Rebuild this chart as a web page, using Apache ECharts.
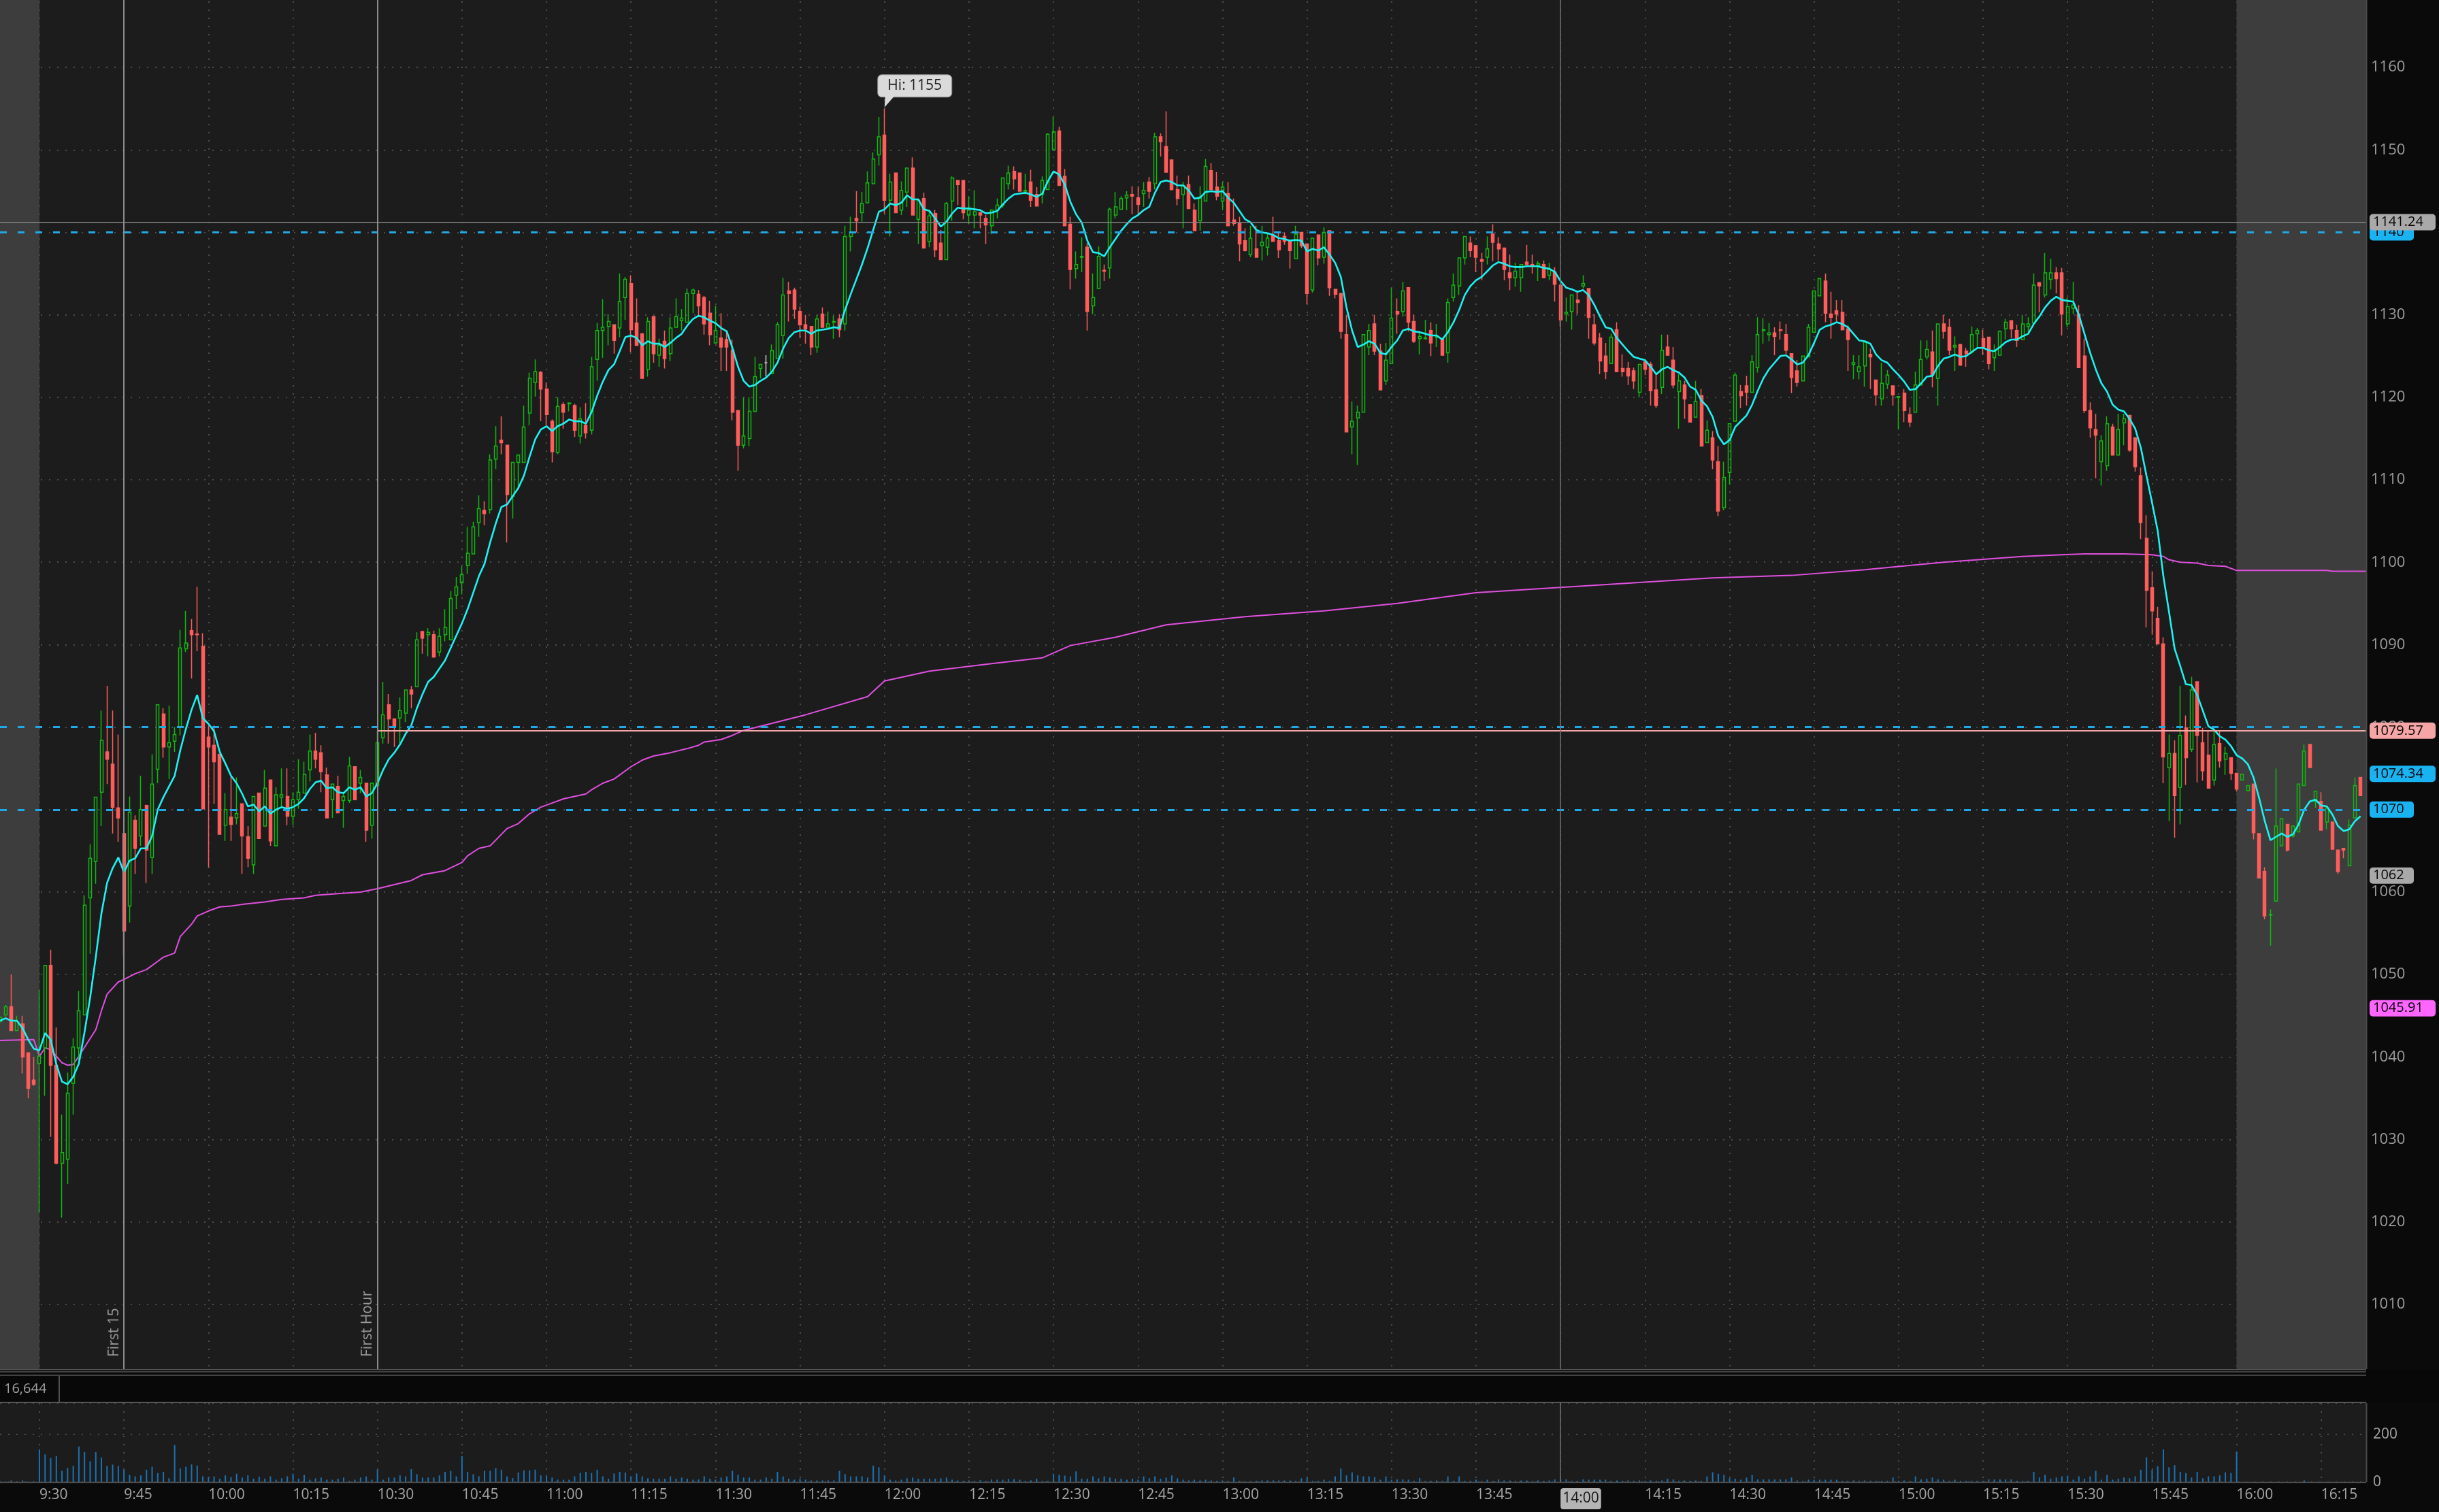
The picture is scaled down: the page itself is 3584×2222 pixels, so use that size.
<!DOCTYPE html>
<html><head><meta charset="utf-8">
<script src="https://cdn.jsdelivr.net/npm/echarts@6/dist/echarts.min.js"></script>
<style>html,body{margin:0;padding:0;background:#0a0a0a;}#c{width:3584px;height:2222px;}</style>
</head><body><div id="c"></div>
<script>
// ---- categories: one-minute bars 9:23 .. 16:23 ----
const firstMinute = 9 * 60 + 23, lastMinute = 16 * 60 + 23;
const times = [];
for (let t = firstMinute; t <= lastMinute; t++) times.push(Math.floor(t / 60) + ':' + String(t % 60).padStart(2, '0'));

// ---- candles [open, close, low, high], starting 9:23 ----
const candles = [
[1044.3,1044.8,1044.0,1045.0],[1045.1,1046.1,1044.9,1046.3],[1046.1,1043.2,1043.2,1050.0],[1043.2,1044.3,1043.2,1045.0],[1044.0,1040.0,1038.0,1045.0],[1040.5,1036.2,1035.0,1040.5],[1037.2,1036.7,1036.5,1040.0],
[1039.2,1040.1,1021.1,1048.1],[1041.1,1051.1,1035.3,1051.1],[1051.1,1039.0,1030.3,1053.0],[1039.0,1027.1,1027.0,1043.6],[1027.1,1028.4,1020.5,1033.0],[1027.6,1035.6,1024.6,1038.1],[1036.8,1041.2,1033.0,1042.3],[1041.1,1045.6,1039.6,1048.0],[1045.1,1058.4,1045.1,1059.6],[1059.3,1064.1,1052.5,1065.8],
[1063.7,1071.5,1061.0,1071.5],[1072.1,1078.4,1068.0,1082.0],[1077.0,1076.1,1073.1,1085.0],[1075.5,1070.3,1067.1,1082.0],[1070.2,1069.0,1066.1,1079.1],[1067.1,1055.3,1052.3,1067.1],[1058.3,1069.7,1056.3,1071.6],[1068.7,1065.3,1062.2,1069.3],[1066.8,1070.0,1065.6,1074.1],[1070.5,1065.1,1061.1,1070.6],
[1064.2,1073.1,1062.2,1076.7],[1074.9,1082.7,1073.2,1082.7],[1081.6,1077.6,1076.3,1082.3],[1077.6,1078.1,1073.7,1082.6],[1078.3,1079.1,1077.0,1080.0],[1080.0,1089.6,1079.0,1091.8],[1089.5,1090.2,1089.1,1094.1],[1091.7,1091.2,1085.9,1093.1],[1091.3,1091.2,1089.2,1097.0],[1089.8,1070.1,1070.0,1091.4],
[1078.8,1077.6,1063.0,1080.2],[1077.8,1075.8,1070.7,1080.2],[1076.7,1067.0,1067.0,1076.7],[1068.1,1070.0,1066.2,1072.0],[1069.1,1068.2,1066.2,1074.0],[1069.0,1069.5,1068.2,1073.9],[1070.7,1066.8,1062.2,1070.7],[1066.7,1064.1,1063.0,1068.0],[1063.3,1071.6,1062.2,1071.6],[1072.0,1066.5,1066.5,1072.0],
[1068.0,1072.6,1068.0,1074.8],[1073.6,1066.2,1065.6,1073.6],[1065.6,1071.8,1065.6,1072.7],[1071.5,1071.8,1070.3,1075.0],[1071.6,1069.2,1068.1,1075.0],[1069.2,1071.2,1068.1,1072.1],[1071.2,1072.1,1070.1,1076.1],[1072.0,1074.3,1072.0,1075.8],[1074.8,1077.1,1073.4,1079.1],[1077.1,1076.1,1075.0,1079.3],
[1076.9,1074.6,1072.1,1077.8],[1074.2,1069.0,1069.0,1075.1],[1071.2,1073.1,1069.0,1073.1],[1072.8,1069.6,1069.6,1074.1],[1071.1,1071.6,1067.8,1072.1],[1071.1,1075.3,1070.8,1076.4],[1075.2,1071.2,1071.2,1075.2],[1073.2,1073.9,1072.0,1074.8],[1073.2,1067.5,1066.1,1073.2],[1068.1,1073.2,1066.5,1073.2],
[1072.9,1078.1,1072.9,1079.6],[1078.7,1081.5,1078.0,1085.5],[1082.7,1081.0,1078.0,1084.0],[1081.0,1080.2,1077.6,1081.0],[1081.1,1082.0,1078.0,1083.6],[1081.7,1084.5,1080.6,1084.5],[1084.5,1084.0,1082.3,1085.0],[1084.9,1090.6,1084.9,1091.5],[1091.6,1090.8,1088.9,1091.6],[1091.2,1091.5,1088.6,1092.0],
[1091.2,1088.5,1088.4,1091.7],[1089.1,1091.0,1088.6,1092.0],[1091.2,1092.1,1090.4,1094.3],[1090.6,1095.6,1090.6,1096.5],[1096.0,1097.0,1094.3,1098.2],[1097.5,1098.5,1096.1,1099.5],[1099.6,1101.1,1098.6,1104.3],[1101.0,1104.3,1101.0,1104.9],[1104.8,1106.5,1103.1,1108.1],[1106.3,1105.9,1104.5,1107.4],
[1106.4,1112.4,1105.9,1113.1],[1112.5,1114.1,1111.3,1116.5],[1114.8,1114.5,1113.1,1117.7],[1114.2,1108.2,1102.4,1114.2],[1108.0,1112.1,1105.3,1112.1],[1112.1,1113.0,1109.0,1113.1],[1112.1,1116.4,1112.1,1119.0],[1118.1,1122.3,1116.6,1123.0],[1121.8,1123.1,1120.1,1124.6],[1123.0,1121.0,1117.1,1123.2],
[1121.0,1117.9,1116.6,1121.8],[1117.1,1113.4,1112.1,1117.3],[1113.3,1118.9,1113.1,1120.0],[1119.1,1118.2,1116.2,1119.4],[1119.2,1119.3,1118.3,1119.4],[1119.0,1116.0,1115.2,1119.2],[1115.3,1117.4,1114.4,1118.8],[1116.6,1115.7,1115.0,1119.3],[1116.0,1123.7,1115.5,1124.9],[1124.6,1128.1,1122.0,1129.0],
[1128.1,1128.5,1124.8,1131.9],[1128.6,1129.2,1126.3,1130.1],[1128.8,1126.9,1125.3,1128.8],[1128.4,1131.6,1127.3,1135.0],[1132.1,1134.3,1129.4,1134.6],[1133.8,1128.2,1125.5,1134.8],[1129.0,1126.3,1126.3,1132.0],[1127.7,1122.3,1122.3,1127.7],[1123.4,1129.2,1122.5,1129.7],[1129.8,1125.3,1124.2,1129.8],
[1125.1,1126.3,1123.7,1127.1],[1126.8,1124.7,1123.5,1128.1],[1125.3,1128.4,1124.4,1129.7],[1128.5,1129.8,1128.5,1132.0],[1129.3,1129.6,1128.1,1130.7],[1129.1,1132.6,1129.1,1133.2],[1132.6,1133.0,1130.2,1133.2],[1132.5,1131.1,1129.7,1133.0],[1132.1,1128.9,1127.6,1132.3],[1130.2,1127.6,1126.3,1131.7],
[1126.6,1128.1,1126.5,1131.1],[1127.2,1126.1,1123.2,1130.2],[1127.0,1126.1,1123.2,1128.1],[1125.7,1118.2,1117.2,1127.0],[1118.4,1114.2,1111.1,1118.4],[1114.2,1115.3,1113.8,1120.0],[1115.0,1118.3,1114.1,1120.0],[1118.3,1122.5,1118.3,1124.9],[1123.5,1124.0,1122.3,1124.0],[1124.2,1124.2,1122.5,1125.1],
[1122.9,1125.7,1122.9,1126.4],[1124.7,1128.8,1124.7,1129.1],[1127.5,1132.4,1124.7,1134.5],[1132.9,1132.6,1129.2,1134.0],[1133.0,1130.7,1129.5,1133.3],[1130.4,1128.8,1127.2,1131.0],[1128.8,1128.3,1126.5,1130.0],[1128.6,1126.1,1125.1,1128.6],[1126.1,1129.5,1125.4,1130.0],[1130.1,1128.5,1128.5,1130.9],
[1128.5,1128.9,1128.5,1130.4],[1129.1,1129.2,1127.1,1129.9],[1129.5,1128.2,1127.3,1130.1],[1128.9,1139.5,1128.1,1140.8],[1139.5,1140.0,1137.7,1141.9],[1141.7,1141.4,1140.0,1145.0],[1142.4,1143.5,1141.3,1144.9],[1143.6,1146.0,1143.6,1147.4],[1145.9,1148.9,1145.9,1149.7],[1149.4,1151.6,1148.1,1154.0],
[1151.8,1143.9,1142.3,1155.0],[1143.9,1146.1,1139.5,1147.1],[1147.2,1142.4,1142.4,1147.2],[1142.7,1145.1,1142.1,1146.2],[1144.9,1147.8,1143.1,1147.8],[1147.8,1142.1,1142.1,1149.1],[1141.6,1143.9,1138.6,1144.1],[1144.1,1138.1,1138.1,1144.8],[1138.9,1142.0,1138.2,1142.7],[1142.3,1137.9,1137.0,1142.7],
[1138.7,1136.7,1136.7,1140.3],[1136.7,1143.5,1136.7,1143.7],[1143.8,1146.6,1141.4,1146.8],[1146.3,1145.8,1143.3,1146.3],[1146.3,1142.4,1141.6,1146.3],[1142.1,1142.7,1141.0,1144.4],[1142.1,1142.5,1140.5,1145.1],[1142.4,1142.1,1140.5,1142.4],[1141.7,1140.9,1138.6,1142.1],[1140.8,1142.7,1139.8,1142.8],
[1142.7,1143.3,1141.7,1144.1],[1143.3,1146.6,1143.0,1146.6],[1145.9,1147.2,1145.2,1148.1],[1147.4,1146.5,1145.2,1148.0],[1147.2,1145.0,1145.0,1147.2],[1145.0,1145.1,1144.6,1147.1],[1146.1,1143.9,1143.1,1147.6],[1144.6,1143.2,1143.2,1145.5],[1144.6,1146.3,1143.5,1146.8],[1145.2,1151.9,1145.2,1152.0],
[1150.0,1152.2,1150.0,1154.0],[1152.3,1145.7,1145.7,1152.8],[1146.8,1140.8,1140.8,1147.7],[1141.0,1135.5,1133.1,1141.9],[1135.6,1136.1,1134.4,1137.7],[1137.0,1137.1,1135.2,1139.4],[1138.2,1130.4,1128.1,1138.7],[1131.1,1132.1,1130.1,1135.0],[1133.2,1137.1,1133.2,1138.3],[1135.4,1135.3,1134.1,1136.1],
[1135.7,1142.8,1134.4,1143.0],[1142.1,1143.1,1141.7,1144.9],[1142.8,1144.1,1142.8,1144.4],[1144.2,1144.5,1142.7,1145.0],[1144.6,1144.4,1142.2,1145.6],[1144.2,1143.4,1142.2,1145.6],[1144.7,1145.1,1143.1,1146.1],[1146.1,1145.0,1144.1,1146.7],[1145.9,1151.6,1145.2,1152.1],[1151.6,1151.0,1149.2,1152.0],
[1150.4,1147.3,1147.3,1154.7],[1148.8,1145.2,1145.1,1148.8],[1145.2,1144.1,1143.3,1146.9],[1144.6,1145.7,1140.5,1146.1],[1145.8,1142.9,1142.9,1146.9],[1142.7,1140.2,1140.2,1143.5],[1141.4,1144.3,1140.2,1145.6],[1143.8,1148.0,1143.8,1148.9],[1147.5,1145.2,1145.2,1148.4],[1145.5,1144.4,1143.9,1147.3],
[1143.8,1145.5,1142.7,1146.1],[1144.7,1140.8,1140.8,1146.1],[1141.5,1141.1,1140.8,1144.1],[1141.1,1138.6,1136.5,1141.9],[1139.0,1137.8,1137.7,1140.5],[1137.3,1139.3,1137.0,1140.8],[1138.0,1137.0,1137.0,1140.8],[1138.4,1138.8,1136.6,1140.8],[1138.2,1139.3,1137.2,1139.8],[1139.6,1138.9,1138.9,1141.9],
[1139.0,1137.9,1136.9,1140.0],[1139.5,1138.9,1138.5,1140.0],[1139.0,1137.8,1135.6,1139.0],[1136.8,1139.8,1136.8,1140.8],[1140.0,1138.4,1138.1,1140.0],[1138.6,1132.6,1131.3,1138.6],[1133.0,1139.3,1132.7,1139.3],[1139.7,1136.9,1136.0,1139.7],[1137.0,1140.0,1136.2,1140.6],[1140.2,1133.3,1132.3,1140.2],
[1133.1,1132.5,1132.0,1133.1],[1132.6,1128.0,1127.1,1132.6],[1127.6,1115.8,1115.8,1130.0],[1116.4,1117.1,1113.1,1119.5],[1117.5,1118.2,1111.8,1119.0],[1118.2,1127.6,1118.2,1127.6],[1126.1,1128.1,1125.1,1128.9],[1128.9,1125.6,1125.1,1130.0],[1125.6,1120.9,1120.9,1126.5],[1122.0,1124.5,1121.5,1126.6],
[1124.1,1129.6,1124.1,1133.3],[1130.4,1130.1,1127.7,1132.0],[1130.4,1132.9,1129.8,1134.0],[1133.3,1129.1,1128.0,1133.3],[1129.2,1126.8,1126.6,1130.0],[1127.1,1127.4,1125.2,1127.8],[1127.1,1127.2,1127.0,1129.4],[1128.1,1126.6,1125.0,1129.1],[1127.3,1127.4,1126.1,1128.9],[1127.0,1125.1,1125.1,1127.0],
[1125.4,1131.5,1124.2,1132.0],[1132.1,1133.6,1131.6,1135.0],[1133.5,1136.9,1132.4,1136.9],[1136.9,1139.5,1136.1,1139.5],[1138.7,1137.8,1137.0,1139.5],[1138.4,1137.0,1135.2,1138.5],[1136.7,1136.5,1134.2,1137.5],[1137.0,1138.0,1136.1,1139.5],[1139.8,1138.8,1136.5,1141.0],[1138.6,1138.0,1136.6,1139.4],
[1138.1,1135.5,1134.2,1138.1],[1135.1,1134.5,1133.0,1137.3],[1134.5,1135.3,1133.4,1136.3],[1134.5,1136.1,1132.8,1136.1],[1136.4,1136.1,1136.1,1138.5],[1136.1,1135.9,1135.0,1137.3],[1136.0,1136.2,1134.1,1136.5],[1136.1,1134.5,1134.5,1136.6],[1134.8,1135.5,1134.2,1136.3],[1135.2,1133.7,1131.6,1135.8],
[1133.6,1129.4,1128.6,1133.6],[1130.1,1130.3,1129.2,1132.1],[1130.4,1132.4,1128.2,1132.5],[1131.8,1131.5,1130.1,1132.9],[1133.5,1133.8,1133.2,1134.8],[1133.2,1129.7,1127.1,1133.2],[1128.8,1126.6,1126.3,1130.1],[1127.2,1124.4,1122.8,1127.8],[1125.0,1123.1,1122.2,1126.6],[1124.1,1127.3,1124.1,1127.7],
[1128.2,1123.1,1123.1,1129.1],[1123.5,1123.1,1122.5,1125.2],[1123.5,1122.6,1121.5,1124.3],[1123.2,1122.0,1121.0,1123.6],[1120.6,1124.0,1120.0,1124.0],[1124.3,1123.4,1122.7,1124.3],[1124.0,1120.8,1119.0,1124.3],[1120.9,1119.0,1118.7,1122.8],[1121.2,1125.7,1120.4,1127.6],[1126.1,1125.1,1125.1,1127.6],
[1124.5,1121.5,1121.1,1126.1],[1120.7,1122.0,1116.2,1122.8],[1121.5,1119.8,1117.4,1122.0],[1119.1,1117.0,1117.0,1119.1],[1117.6,1119.5,1117.6,1122.0],[1120.2,1114.1,1114.1,1121.0],[1114.5,1116.0,1114.5,1117.2],[1115.1,1112.4,1111.3,1115.9],[1112.2,1106.2,1105.6,1114.1],[1106.6,1110.3,1106.3,1112.2],
[1110.9,1116.8,1109.4,1116.8],[1117.1,1122.7,1117.1,1123.0],[1120.7,1120.2,1118.7,1121.5],[1121.4,1120.6,1119.0,1122.6],[1120.6,1124.3,1120.6,1125.1],[1123.6,1127.6,1123.0,1129.7],[1128.1,1128.2,1126.5,1129.6],[1127.6,1127.8,1126.8,1129.0],[1127.8,1127.4,1125.1,1128.5],[1128.2,1128.1,1127.0,1129.2],
[1127.6,1125.7,1125.3,1128.9],[1125.3,1122.4,1120.5,1125.3],[1123.2,1121.8,1121.3,1124.5],[1122.0,1125.0,1122.0,1125.0],[1124.9,1128.5,1124.9,1128.9],[1127.9,1132.9,1127.9,1132.9],[1132.3,1134.4,1132.3,1134.5],[1134.1,1130.2,1129.1,1135.0],[1130.1,1129.7,1127.1,1132.8],[1130.5,1130.1,1129.2,1131.8],
[1130.3,1128.2,1128.1,1131.8],[1128.3,1127.0,1123.2,1128.7],[1124.0,1124.2,1122.2,1125.1],[1123.1,1123.7,1122.2,1125.1],[1123.8,1126.7,1121.3,1126.7],[1125.2,1124.9,1121.0,1125.9],[1122.1,1120.3,1119.0,1122.1],[1119.8,1121.7,1119.0,1124.2],[1121.6,1122.7,1121.0,1123.3],[1121.4,1120.3,1119.0,1121.4],
[1120.0,1120.1,1116.1,1120.1],[1120.5,1118.4,1117.0,1121.0],[1117.9,1117.0,1116.4,1118.8],[1118.2,1121.5,1118.2,1123.1],[1121.5,1124.6,1121.5,1126.9],[1124.9,1125.8,1124.6,1126.9],[1125.5,1122.7,1121.2,1128.1],[1122.3,1128.9,1119.0,1128.9],[1128.9,1128.0,1127.1,1130.0],[1128.5,1125.7,1125.1,1129.5],
[1126.1,1126.3,1123.2,1127.4],[1126.4,1123.9,1123.8,1126.4],[1125.6,1125.3,1123.7,1126.0],[1125.5,1127.6,1125.3,1128.6],[1127.7,1128.1,1126.1,1128.4],[1127.1,1126.1,1125.1,1128.2],[1127.3,1124.1,1123.4,1127.3],[1124.8,1125.6,1123.2,1126.4],[1125.1,1128.0,1125.1,1128.1],[1128.3,1129.1,1127.0,1129.5],
[1129.3,1128.3,1127.2,1129.3],[1128.1,1126.9,1126.1,1128.8],[1127.0,1128.9,1127.0,1130.0],[1128.6,1128.9,1127.8,1129.7],[1129.0,1133.6,1129.0,1135.0],[1133.9,1133.5,1130.3,1134.0],[1132.4,1135.1,1132.1,1137.5],[1134.3,1135.1,1133.1,1136.8],[1135.1,1134.4,1132.6,1135.8],[1135.1,1130.1,1127.5,1135.7],
[1128.9,1131.0,1128.5,1132.1],[1130.8,1131.2,1130.1,1134.0],[1130.1,1123.6,1123.6,1131.2],[1125.0,1118.4,1118.1,1127.1],[1118.4,1116.3,1115.1,1119.4],[1116.1,1115.4,1110.2,1118.0],[1112.2,1114.7,1109.3,1115.4],[1111.7,1116.8,1111.1,1117.7],[1116.4,1113.0,1113.0,1116.8],[1113.0,1116.1,1113.0,1118.0],
[1116.9,1117.4,1114.2,1118.0],[1117.8,1113.6,1113.4,1117.8],[1115.1,1111.6,1111.0,1115.1],[1110.5,1104.8,1102.8,1111.5],[1102.9,1096.6,1092.1,1105.7],[1096.9,1094.1,1091.2,1098.9],[1093.2,1090.1,1090.1,1094.6],[1090.1,1076.4,1073.2,1090.9],[1075.1,1076.8,1068.6,1079.1],[1076.8,1071.7,1066.6,1078.4],
[1072.7,1079.0,1068.2,1085.0],[1079.9,1076.3,1073.0,1081.4],[1077.3,1084.5,1077.0,1086.1],[1085.5,1079.0,1073.3,1085.5],[1078.1,1074.7,1073.5,1079.9],[1076.6,1072.6,1072.6,1079.6],[1073.6,1077.9,1072.9,1079.6],[1078.0,1075.9,1075.1,1079.6],[1076.1,1076.8,1074.2,1077.6],[1076.3,1074.4,1073.6,1076.3],
[1074.4,1072.5,1072.2,1074.4],[1073.6,1074.3,1073.6,1074.3],[1072.3,1072.9,1072.3,1072.9],[1073.1,1067.2,1066.4,1073.1],[1067.1,1061.7,1061.7,1067.1],[1062.5,1057.1,1056.7,1063.0],[1057.2,1057.3,1053.5,1057.9],[1058.9,1068.0,1058.9,1075.0],[1065.6,1068.9,1065.6,1068.9],[1068.2,1065.1,1064.9,1068.2],
[1066.8,1068.0,1066.6,1068.0],[1067.3,1073.1,1067.3,1073.1],[1072.9,1077.1,1072.9,1077.9],[1077.9,1075.1,1075.1,1077.9],[1071.0,1072.2,1070.2,1072.2],[1071.0,1067.5,1067.5,1072.1],[1068.5,1070.2,1067.6,1070.2],[1068.5,1065.2,1065.2,1068.5],[1065.1,1062.5,1062.2,1065.1],[1065.3,1065.1,1064.1,1065.3],
[1063.2,1068.1,1063.2,1068.8],[1069.0,1072.9,1069.0,1073.9],[1073.9,1071.7,1071.7,1073.9]
];

// ---- cyan moving-average study line, starting 9:23 ----
const ema = [
1044.4,1044.7,1044.4,1044.4,1043.5,1042.1,1041.0,
1040.8,1042.9,1042.1,1039.1,1037.0,1036.7,1037.6,1039.2,1043.0,1047.2,
1052.1,1057.4,1061.1,1062.9,1064.2,1062.4,1063.8,1064.1,1065.3,1065.3,
1066.8,1070.0,1071.5,1072.8,1074.1,1077.2,1079.8,1082.1,1083.9,1081.1,
1080.4,1079.5,1077.0,1075.6,1074.1,1073.2,1071.9,1070.4,1070.6,1069.8,
1070.4,1069.5,1070.0,1070.3,1070.1,1070.3,1070.7,1071.4,1072.5,1073.3,
1073.5,1072.6,1072.7,1072.1,1072.0,1072.7,1072.4,1072.7,1071.6,1072.0,
1073.2,1074.8,1076.1,1076.9,1077.9,1079.2,1080.2,1082.3,1084.0,1085.5,
1086.1,1087.1,1088.1,1089.6,1091.1,1092.6,1094.3,1096.3,1098.3,1099.8,
1102.4,1104.7,1106.7,1107.0,1108.0,1109.0,1110.5,1112.8,1114.9,1116.1,
1116.5,1115.9,1116.5,1116.8,1117.3,1117.1,1117.1,1116.8,1118.2,1120.2,
1121.9,1123.3,1124.0,1125.6,1127.3,1127.5,1127.2,1126.3,1126.8,1126.5,
1126.5,1126.1,1126.6,1127.2,1127.7,1128.7,1129.5,1129.9,1129.7,1129.3,
1129.0,1128.4,1128.0,1126.0,1123.7,1122.0,1121.3,1121.5,1122.0,1122.4,
1123.1,1124.2,1125.9,1127.2,1127.9,1128.1,1128.1,1127.7,1128.1,1128.2,
1128.3,1128.5,1128.4,1130.6,1132.5,1134.3,1136.1,1138.1,1140.3,1142.5,
1142.8,1143.5,1143.3,1143.6,1144.5,1144.0,1144.0,1142.8,1142.6,1141.7,
1140.7,1141.3,1142.3,1143.0,1142.9,1142.9,1142.8,1142.7,1142.3,1142.4,
1142.6,1143.4,1144.1,1144.6,1144.7,1144.8,1144.6,1144.3,1144.7,1146.2,
1147.4,1147.0,1145.8,1143.7,1142.2,1141.2,1139.0,1137.6,1137.5,1137.1,
1138.2,1139.2,1140.2,1141.0,1141.7,1142.1,1142.7,1143.1,1144.8,1146.1,
1146.3,1146.1,1145.7,1145.7,1145.1,1144.1,1144.2,1144.9,1145.0,1144.9,
1145.0,1144.2,1143.6,1142.6,1141.6,1141.2,1140.3,1140.0,1139.9,1139.7,
1139.3,1139.2,1139.0,1139.1,1139.0,1137.7,1138.0,1137.8,1138.2,1137.3,
1136.3,1134.6,1130.9,1128.1,1126.1,1126.4,1126.8,1126.5,1125.4,1125.2,
1126.1,1126.9,1128.1,1128.3,1128.0,1127.9,1127.7,1127.5,1127.5,1127.0,
1127.9,1129.1,1130.6,1132.4,1133.5,1134.2,1134.6,1135.3,1136.0,1136.4,
1136.2,1135.9,1135.8,1135.8,1135.9,1135.9,1135.9,1135.7,1135.6,1135.2,
1134.1,1133.3,1133.1,1132.8,1133.0,1132.4,1131.2,1129.8,1128.5,1128.3,
1127.2,1126.4,1125.6,1124.9,1124.7,1124.5,1123.7,1122.8,1123.4,1123.7,
1123.3,1123.0,1122.4,1121.3,1120.9,1119.6,1118.9,1117.6,1115.3,1114.3,
1114.8,1116.4,1117.1,1117.8,1119.1,1120.8,1122.3,1123.4,1124.2,1125.0,
1125.1,1124.6,1124.0,1124.2,1125.1,1126.6,1128.2,1128.6,1128.8,1129.1,
1128.9,1128.5,1127.7,1126.9,1126.8,1126.5,1125.2,1124.5,1124.2,1123.4,
1122.7,1121.9,1120.9,1121.0,1121.7,1122.5,1122.6,1123.8,1124.7,1124.9,
1125.2,1124.9,1125.0,1125.5,1126.0,1126.0,1125.7,1125.6,1126.1,1126.7,
1127.0,1127.0,1127.4,1127.7,1128.9,1129.8,1130.9,1131.7,1132.2,1131.8,
1131.7,1131.6,1130.0,1127.7,1125.4,1123.4,1121.7,1120.7,1119.1,1118.5,
1118.3,1117.4,1116.2,1113.9,1110.5,1107.2,1103.8,1098.3,1094.0,1089.5,
1087.4,1085.2,1085.1,1083.9,1082.0,1080.1,1079.7,1078.9,1078.5,1077.7,
1076.6,1076.2,1075.5,1073.9,1071.4,1068.6,1066.3,1066.7,1067.1,1066.7,
1067.0,1068.2,1070.0,1071.0,1071.2,1070.5,1070.4,1069.4,1068.0,1067.4,
1067.6,1068.6,1069.2
];

// ---- magenta VWAP-style line, read at points ----
const vwap = [
['9:23',1042.0],['9:29',1042.1],['9:30',1040.1],['9:31',1041.1],['9:32',1040.9],['9:34',1039.3],['9:35',1039.0],['9:36',1039.1],['9:37',1040.1],['9:40',1043.3],['9:41',1045.6],['9:42',1047.6],['9:44',1049.1],['9:45',1049.4],['9:47',1050.1],['9:49',1050.6],['9:51',1051.6],['9:52',1052.1],['9:54',1052.6],['9:55',1054.6],['9:57',1056.1],['9:58',1057.1],['10:00',1057.7],['10:02',1058.2],['10:04',1058.3],['10:06',1058.5],['10:10',1058.8],['10:13',1059.1],['10:17',1059.3],['10:19',1059.6],['10:23',1059.8],['10:27',1060.0],['10:30',1060.4],['10:33',1060.9],['10:36',1061.4],['10:38',1062.1],['10:42',1062.6],['10:45',1063.6],['10:46',1064.4],['10:48',1065.3],['10:50',1065.6],['10:52',1067.0],['10:53',1067.7],['10:55',1068.3],['10:57',1069.5],['10:59',1070.3],['11:01',1070.8],['11:03',1071.3],['11:07',1071.9],['11:08',1072.4],['11:10',1073.2],['11:12',1073.7],['11:15',1075.2],['11:17',1076.0],['11:19',1076.5],['11:22',1076.9],['11:25',1077.4],['11:27',1077.8],['11:28',1078.2],['11:31',1078.5],['11:33',1079.0],['11:35',1079.6],['11:46',1081.5],['11:57',1083.7],['12:00',1085.6],['12:08',1086.8],['12:19',1087.7],['12:28',1088.4],['12:33',1089.9],['12:41',1090.9],['12:50',1092.4],['13:04',1093.4],['13:18',1094.1],['13:31',1095.0],['13:45',1096.3],['13:59',1096.9],['14:13',1097.5],['14:27',1098.1],['14:41',1098.4],['14:54',1099.1],['15:08',1100.0],['15:22',1100.7],['15:29',1100.9],['15:33',1101.0],['15:40',1101.0],['15:45',1100.9],['15:47',1100.7],['15:48',1100.3],['15:50',1100.0],['15:53',1099.9],['15:55',1099.6],['15:58',1099.5],['16:00',1099.0],['16:16',1099.0],['16:17',1098.9],['16:23',1098.9]
];

// ---- volume (thousands), starting 9:23 ----
const volume = [
3,2,7,2,7,2,3,
137,116,101,109,47,59,68,149,126,87,
126,103,68,73,68,52,30,24,28,52,
64,38,43,16,155,57,64,74,69,24,
19,24,14,28,21,35,19,28,14,22,
14,24,10,16,24,35,14,30,10,16,
19,10,10,14,19,5,10,19,24,10,
52,10,19,19,28,24,54,33,19,19,
19,28,43,47,24,109,43,33,24,47,
47,59,52,24,17,40,49,49,52,28,
28,19,10,10,10,24,38,43,38,52,
24,14,36,43,40,24,36,24,16,14,
14,14,24,14,19,14,10,11,24,14,
10,19,24,47,30,19,19,10,10,19,
14,43,24,14,10,14,10,7,7,7,
7,7,47,33,24,24,24,19,69,62,
28,10,7,10,16,19,14,14,14,14,
16,19,10,7,5,7,5,8,5,11,
10,10,12,12,10,5,7,14,5,5,
35,30,27,24,45,14,14,24,16,24,
19,14,14,10,14,10,24,16,24,14,
19,28,16,10,7,10,7,10,7,5,
7,5,19,5,3,3,5,7,7,7,
7,7,7,5,16,19,5,5,10,5,
24,57,28,41,28,24,24,21,10,24,
10,11,11,10,5,17,5,5,7,5,
24,5,24,5,5,10,5,10,5,11,
7,7,5,7,7,5,7,5,7,11,
11,11,5,5,11,10,10,10,10,5,
7,5,7,5,7,5,7,5,7,14,
11,5,7,5,7,5,24,41,35,30,
16,14,10,19,30,11,11,11,11,11,
11,19,7,5,10,10,10,10,10,10,
5,5,7,5,7,5,5,5,5,19,
5,7,5,24,11,14,19,11,10,5,
10,5,5,5,5,5,11,11,11,11,
11,5,5,5,43,19,30,14,19,24,
27,10,24,14,24,47,10,30,10,14,
19,16,24,52,104,52,66,137,62,71,
43,38,19,43,16,24,24,28,41,38,
128,0,0,0,0,0,0,0,0,0,
0,0,7,0,0,0,0,0,0,0,
0,0,0,0
];

// ---- levels / annotations ----
const dashedLevels = [1140, 1080, 1070];
const pinkLevel = {value: 1079.57, from: '10:30'};
const crossPrice = 1141.24, crossTime = '14:00';
const sessionLines = [{time: '9:45', text: 'First 15'}, {time: '10:30', text: 'First Hour'}];
const shaded = [['9:23', '9:30'], ['16:00', '16:23']];
const tags = [
  {value: 1140, text: '1140', bg: '#1ab3f2', w: 55},
  {value: 1141.24, text: '1141.24', bg: '#a9a9a9', w: 87},
  {value: 1079.57, text: '1079.57', bg: '#f5a5a5', w: 87},
  {value: 1074.34, text: '1074.34', bg: '#1ab3f2', w: 87},
  {value: 1070, text: '1070', bg: '#1ab3f2', w: 55},
  {value: 1062, text: '1062', bg: '#a9a9a9', w: 55},
  {value: 1045.91, text: '1045.91', bg: '#ff66ff', w: 87}
];
const hiLabel = {time: '12:00', value: 1155, text: 'Hi: 1155'};
const volumeBoxText = '16,644';

// ---------------------------------------------------------------
const FONT = '"Open Sans", "Noto Sans", sans-serif';
const is15 = (i, v) => parseInt(String(v).split(':')[1], 10) % 15 === 0;
const dotted = {color: '#5e5e5e', type: [2, 10], width: 1.5};
const tagLabel = t => ({
  show: true, position: 'end', distance: 5, formatter: t.text, opacity: 1,
  backgroundColor: t.bg, color: '#050505', fontSize: 20, fontFamily: FONT, lineHeight: 21,
  padding: [2, 5, 1, 5], borderRadius: 5, width: t.w, align: 'left', verticalAlign: 'middle'
});
const tagFor = v => tags.find(t => t.value === v);

const markLineData = [];
dashedLevels.forEach(v => {
  const t = tagFor(v);
  markLineData.push({yAxis: v, lineStyle: {color: '#1fa9e6', type: [10, 16], width: 3}, label: t ? tagLabel(t) : {show: false}});
});
markLineData.push([
  {coord: [pinkLevel.from, pinkLevel.value], lineStyle: {color: '#f3a6a6', width: 2, type: 'solid'}, label: tagLabel(tagFor(pinkLevel.value))},
  {coord: [times[times.length - 1], pinkLevel.value], label: tagLabel(tagFor(pinkLevel.value))}
]);
markLineData.push({yAxis: crossPrice, lineStyle: {color: '#858585', width: 1.5, type: 'solid'}, label: tagLabel(tagFor(crossPrice))});
// price tags with no visible line: draw a transparent line so only the tag shows
tags.filter(t => t.value !== crossPrice && t.value !== pinkLevel.value && dashedLevels.indexOf(t.value) < 0)
  .forEach(t => markLineData.push({yAxis: t.value, lineStyle: {color: 'rgba(0,0,0,0)', width: 1, type: 'solid'}, label: tagLabel(t)}));
sessionLines.forEach(s => markLineData.push({xAxis: s.time, lineStyle: {color: '#8c8c8c', width: 2, type: 'solid'}, label: {show: false}}));
markLineData.push({xAxis: crossTime, lineStyle: {color: '#707070', width: 1.5, type: 'solid'}, label: {show: false}});

const option = {
  backgroundColor: '#0a0a0a',
  animation: false,
  grid: [
    {left: 0, top: -22, width: 3477, height: 2060, show: true, backgroundColor: '#1c1c1c', borderWidth: 0, containLabel: false, outerBoundsMode: 'none'},
    {left: 0, top: 2062, width: 3477, height: 116, show: true, backgroundColor: '#1c1c1c', borderWidth: 0, containLabel: false, outerBoundsMode: 'none'}
  ],
  xAxis: [
    {type: 'category', gridIndex: 0, data: times, boundaryGap: false,
     axisLine: {show: false}, axisTick: {show: false}, axisLabel: {show: false},
     splitLine: {show: true, interval: is15, lineStyle: dotted}},
    {type: 'category', gridIndex: 1, data: times, boundaryGap: false,
     axisLine: {show: false}, axisTick: {show: false},
     axisLabel: {show: true, interval: is15, align: 'left', margin: 9, color: '#a6a6a6', fontSize: 21, fontFamily: FONT,
       formatter: v => v === crossTime ? '{hl|' + v + '}' : v,
       rich: {hl: {backgroundColor: '#b5b5b5', color: '#151515', borderRadius: 4, padding: [5, 3, 5, 3], fontSize: 21, fontFamily: FONT}}},
     splitLine: {show: true, interval: is15, lineStyle: dotted}}
  ],
  yAxis: [
    {type: 'value', gridIndex: 0, position: 'right', min: 1000, max: 1170, interval: 10, scale: false,
     axisLine: {show: false}, axisTick: {show: false},
     axisLabel: {margin: 7, color: '#9c9c9c', fontSize: 22, fontFamily: FONT, formatter: v => (v <= 1000 || v >= 1170) ? '' : String(v)},
     splitLine: {show: true, lineStyle: dotted}},
    {type: 'value', gridIndex: 1, position: 'right', min: 0, max: 331.4, interval: 200,
     axisLine: {show: false}, axisTick: {show: false},
     axisLabel: {margin: 10, color: '#a6a6a6', fontSize: 21, fontFamily: FONT, formatter: v => (v === 0 || v === 200) ? String(v) : ''},
     splitLine: {show: true, lineStyle: dotted}}
  ],
  series: [
    {type: 'line', name: 'levels', xAxisIndex: 0, yAxisIndex: 0, data: [], z: 1, silent: true,
     markArea: {silent: true, itemStyle: {color: '#3d3d3d'}, data: shaded.map(s => [{xAxis: s[0]}, {xAxis: s[1]}])},
     markLine: {silent: true, symbol: ['none', 'none'], precision: 2, label: {show: false}, data: markLineData}},
    {type: 'line', name: 'vwap', xAxisIndex: 0, yAxisIndex: 0, data: vwap, z: 2, connectNulls: true,
     symbol: 'none', lineStyle: {color: '#e050e0', width: 2}, silent: true},
    {type: 'candlestick', name: 'price', xAxisIndex: 0, yAxisIndex: 0, data: candles, z: 3, barWidth: 4.5,
     itemStyle: {color: 'rgba(0,0,0,0)', color0: '#ff5c5c', borderColor: '#12b812', borderColor0: '#ff5c5c', borderWidth: 1.5, borderColorDoji: '#c8c8c8'}},
    {type: 'line', name: 'ema', xAxisIndex: 0, yAxisIndex: 0, data: ema, z: 4,
     symbol: 'none', lineStyle: {color: '#1ff0f0', width: 2.6}, silent: true},
    {type: 'bar', name: 'volume', xAxisIndex: 1, yAxisIndex: 1, data: volume, barWidth: 2, z: 3,
     itemStyle: {color: '#1a72b4'}, silent: true,
     markLine: {silent: true, symbol: ['none', 'none'], label: {show: false},
       data: [{xAxis: crossTime, lineStyle: {color: '#707070', width: 1.5, type: 'solid'}}]}}
  ]
};

const chart = echarts.init(document.getElementById('c'), null, {renderer: 'canvas', width: 3584, height: 2222});
chart.setOption(option);

const px = (t, v) => chart.convertToPixel({xAxisIndex: 0, yAxisIndex: 0}, [t, v]);
const hi = px(hiLabel.time, hiLabel.value);
const graphics = [
  {type: 'rect', z: 100, silent: true, shape: {x: 0, y: 2012, width: 3584, height: 50}, style: {fill: '#080808'}},
  {type: 'line', z: 101, silent: true, shape: {x1: 0, y1: 2012.7, x2: 3477, y2: 2012.7}, style: {stroke: '#565656', lineWidth: 1.5}},
  {type: 'line', z: 101, silent: true, shape: {x1: 0, y1: 2016, x2: 3477, y2: 2016}, style: {stroke: '#565656', lineWidth: 1.5}},
  {type: 'line', z: 101, silent: true, shape: {x1: 0, y1: 2021, x2: 3477, y2: 2021}, style: {stroke: '#565656', lineWidth: 1.5}},
  {type: 'line', z: 101, silent: true, shape: {x1: 0, y1: 2061, x2: 3477, y2: 2061}, style: {stroke: '#565656', lineWidth: 2}},
  {type: 'line', z: 101, silent: true, shape: {x1: 87, y1: 2022, x2: 87, y2: 2060}, style: {stroke: '#6a6a6a', lineWidth: 1.5}},
  {type: 'text', z: 101, silent: true, x: 6, y: 2041, style: {text: volumeBoxText, fill: '#a0a0a0', font: '20px ' + FONT, verticalAlign: 'middle', align: 'left'}},
  {type: 'line', z: 101, silent: true, shape: {x1: 3477.5, y1: 0, x2: 3477.5, y2: 2012}, style: {stroke: '#4a4a4a', lineWidth: 2}},
  {type: 'line', z: 101, silent: true, shape: {x1: 3477.5, y1: 2062, x2: 3477.5, y2: 2178}, style: {stroke: '#4a4a4a', lineWidth: 2}},
  {type: 'line', z: 101, silent: true, shape: {x1: 0, y1: 2178.5, x2: 3477, y2: 2178.5}, style: {stroke: '#555555', lineWidth: 1.5}},
  // Hi bubble
  {type: 'rect', z: 102, silent: true, shape: {x: hi[0] - 10, y: hi[1] - 50, width: 109, height: 33, r: 6}, style: {fill: '#dadada', stroke: '#8a8a8a', lineWidth: 1}},
  {type: 'polygon', z: 103, silent: true, shape: {points: [[hi[0] + 1, hi[1] - 18], [hi[0] + 14, hi[1] - 18], [hi[0], hi[1] - 2]]}, style: {fill: '#dadada'}},
  {type: 'text', z: 104, silent: true, x: hi[0] + 44.5, y: hi[1] - 33.5, style: {text: hiLabel.text, fill: '#202020', font: '21px ' + FONT, align: 'center', verticalAlign: 'middle'}}
];
sessionLines.forEach(s => {
  const x = px(s.time, 1100)[0];
  graphics.push({type: 'text', z: 102, silent: true, x: x - 4, y: 1994, rotation: Math.PI / 2,
    style: {text: s.text, fill: '#9a9a9a', font: '21px ' + FONT, align: 'left', verticalAlign: 'bottom'}});
});
chart.setOption({graphic: graphics});
</script>
</body></html>
